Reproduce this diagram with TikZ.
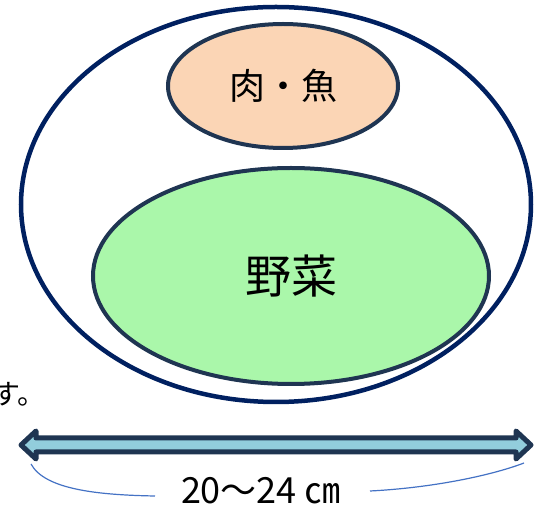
\documentclass[tikz,border=0pt]{standalone}
\usepackage{fontspec}
\setmainfont{Noto Sans CJK JP}
\usetikzlibrary{shapes.geometric,positioning,calc}
\definecolor{platec}{HTML}{002060}
\definecolor{edgec}{HTML}{1F3552}
\definecolor{peach}{HTML}{FBD5B5}
\definecolor{vegc}{HTML}{AAF7AA}
\definecolor{shaftc}{HTML}{92CDDC}
\definecolor{bracec}{HTML}{4472C4}

\begin{document}
\begin{tikzpicture}[x=1pt, y=-1pt,
    dish/.style={draw=edgec, ellipse, line width=4pt, inner sep=0pt},
    brace/.style={draw=bracec, line width=1.2pt}]
    \useasboundingbox (0,0) rectangle (539,510);

    \node [draw=platec, ellipse, line width=4.5pt, minimum width=510pt, minimum height=395pt] (plate) at (276,204.5) {};
    \node [dish, fill=peach, minimum width=230pt, minimum height=124pt, font=\fontsize{36}{36}\selectfont] (meat) at (283,86) {肉・魚};
    \node [dish, fill=vegc, minimum width=396pt, minimum height=216pt, font=\fontsize{46}{46}\selectfont] (veg) at (291,276) {野菜};
    \node [anchor=east, inner sep=0pt, font=\fontsize{28}{28}\selectfont] (note) at (46,394) {す。};

    % width arrow
    \coordinate (aL) at (21,445);
    \coordinate (aR) at (531,445);
    \draw [line width=5pt, draw=edgec, fill=shaftc, line join=round]
        (aL) -- ++(15,-14) -- ++(0,7) -- ($(aR)+(-15,-7)$) -- ++(0,-7) -- (aR)
        -- ++(-15,14) -- ++(0,-7) -- ($(aL)+(15,7)$) -- ++(0,7) -- cycle;

    \node [font=\fontsize{36}{36}\selectfont] (len) at (261,491) {20～24 ㎝};
    \coordinate (bL) at (31,464);
    \coordinate (bR) at (524,463);
    \draw [brace] (bL) .. controls (45,490) and (100,495) .. (155,496);
    \draw [brace] (370,491) .. controls (430,488) and (490,476) .. (bR);
\end{tikzpicture}
\end{document}
